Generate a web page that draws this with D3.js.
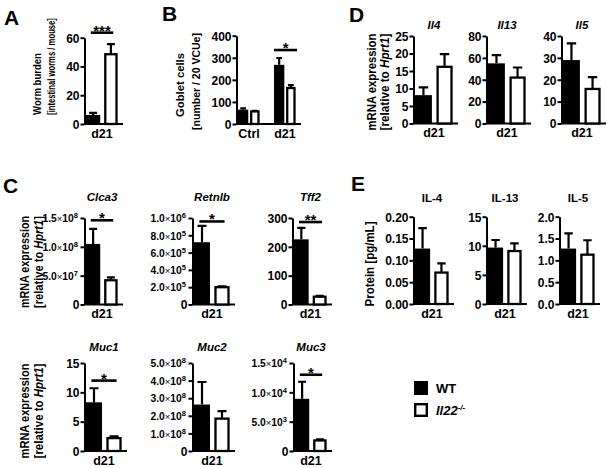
<!DOCTYPE html>
<html>
<head>
<meta charset="utf-8">
<script src="https://cdn.jsdelivr.net/npm/d3@7"></script>
<style>
  body { margin: 0; background: #fff; }
  svg { display: block; }
  text { font-family: "Liberation Sans", Arial, Helvetica, sans-serif; fill: #000; }
</style>
</head>
<body>
<svg id="fig" width="609" height="468"></svg>
<script>
// ---- data ----
const groups = ["WT", "Il22-/-"];

// A: worm burden
const wormCats = ["d21"];
const wormWT = [6.3], wormWTSem = [1.5];
const wormKO = [48.5], wormKOSem = [7.0];
const wormTicks = [0, 20, 40, 60];
const wormSig = [63.5];
const wormStars = ["***"];

// B: goblet cells
const gobletCats = ["Ctrl", "d21"];
const gobletWT = [65, 268], gobletWTSem = [6, 31];
const gobletKO = [57, 163], gobletKOSem = [3, 13];
const gobletTicks = [0, 100, 200, 300, 400];
const gobletSig = [null, 335];
const gobletStars = ["", "*"];

// D: cytokine mRNA
const dGenes = ["Il4", "Il13", "Il5"];
const dWT = [8.1, 55, 29], dWTSem = [2.2, 7.5, 7.6];
const dKO = [16.2, 42, 15.8], dKOSem = [3.6, 9.2, 5.4];
const dTicks = [[0, 5, 10, 15, 20, 25], [0, 20, 40, 60, 80], [0, 10, 20, 30, 40]];

// C: epithelial genes
const cGenes = ["Clca3", "Retnlb", "Tff2", "Muc1", "Muc2", "Muc3"];
const cWT = [1.05e8, 7.2e5, 226, 8.3, 2.64e8, 8.9e3];
const cWTSem = [2.6e7, 1.9e5, 40, 2.4, 1.28e8, 2.9e3];
const cKO = [4.2e7, 2.0e5, 27, 2.2, 1.84e8, 1.8e3];
const cKOSem = [0.5e7, 0.1e5, 3, 0.3, 0.43e8, 0.2e3];
const cTicks = [[0, 5e7, 1e8, 1.5e8], [0, 2e5, 4e5, 6e5, 8e5, 1e6], [0, 100, 200, 300],
                [0, 5, 10, 15], [0, 1e8, 2e8, 3e8, 4e8, 5e8], [0, 5e3, 1e4, 1.5e4]];
const cSci = [true, true, false, false, true, true];
const cStars = ["*", "*", "**", "*", "", "*"];
const cSig = [1.46e8, 9.6e5, 286, 12, null, 1.3e4];

// E: protein
const eProteins = ["IL-4", "IL-13", "IL-5"];
const eWT = [0.127, 9.7, 1.27], eWTSem = [0.047, 1.3, 0.35];
const eKO = [0.072, 9.1, 1.13], eKOSem = [0.021, 1.3, 0.33];
const eTicks = [[0, 0.05, 0.10, 0.15, 0.20], [0, 5, 10, 15], [0, 0.5, 1.0, 1.5, 2.0]];
const eFormat = [".2f", "d", ".1f"];

const svg = d3.select("#fig");

// scientific tick label like 1.5x10^8
function sciLabel(sel) {
  sel.each(function(v) {
    const t = d3.select(this).text(null).attr("font-size", 10.3).attr("x", -6.5);
    if (v === 0) { t.attr("font-size", 12).attr("x", -5).text("0"); return; }
    const e = Math.floor(Math.log10(v) + 1e-9);
    const m = v / Math.pow(10, e);
    t.append("tspan").text(m.toFixed(1));
    t.append("tspan").attr("font-weight", "normal").attr("font-size", 9.5).text("\u00d7");
    t.append("tspan").text("10");
    t.append("tspan").attr("font-size", 7.5).attr("dy", -4).text(e);
  });
}

function barPlot(o) {
  const g = svg.append("g");
  const y = d3.scaleLinear().domain([0, d3.max(o.ticks)]).range([o.bottom, o.top]);
  const xc = d3.scaleBand().domain(o.cats).range([o.x0, o.x1]).paddingInner(o.catPad || 0);
  const xg = d3.scaleBand().domain(groups).range([0, xc.bandwidth()]).paddingInner(o.pad || 0.2);
  const bw = xg.bandwidth();
  const sigL = o.sigL == null ? 0.15 : o.sigL, sigR = o.sigR == null ? 0.85 : o.sigR;

  g.append("line")
    .attr("x1", o.x0 - 2).attr("x2", o.x1 + 5)
    .attr("y1", o.bottom).attr("y2", o.bottom)
    .attr("stroke", "#000").attr("stroke-width", 2);

  o.cats.forEach((c, ci) => {
    groups.forEach((grp, gi) => {
      const v = o.means[gi][ci], s = o.sems[gi][ci];
      const bx = xc(c) + xg(grp);
      const cx = bx + bw / 2;
      g.append("path")
        .attr("d", `M${cx},${y(v)}V${y(v + s)}M${cx - bw * 0.28},${y(v + s)}H${cx + bw * 0.28}`)
        .attr("stroke", "#000").attr("stroke-width", 2.2).attr("fill", "none");
      if (gi === 0) {
        g.append("rect").attr("x", bx).attr("y", y(v))
          .attr("width", bw).attr("height", o.bottom - y(v)).attr("fill", "#000");
      } else {
        g.append("rect").attr("x", bx + 1.5).attr("y", y(v))
          .attr("width", bw - 3).attr("height", o.bottom - y(v))
          .attr("fill", "#fff").attr("stroke", "#000").attr("stroke-width", 2.3);
      }
    });
    if (o.sig && o.sig[ci] != null) {
      const sx = xc(c), w = xc.bandwidth();
      g.append("line")
        .attr("x1", sx + w * sigL).attr("x2", sx + w * sigR)
        .attr("y1", y(o.sig[ci])).attr("y2", y(o.sig[ci]))
        .attr("stroke", "#000").attr("stroke-width", 2.6);
      g.append("text")
        .attr("x", sx + w * (sigL + sigR) / 2).attr("y", y(o.sig[ci]) + 3)
        .attr("text-anchor", "middle").attr("font-size", 15).attr("font-weight", "bold")
        .text(o.stars[ci]);
    }
    g.append("text")
      .attr("x", xc(c) + xc.bandwidth() / 2).attr("y", o.bottom + 13.5)
      .attr("text-anchor", "middle").attr("font-size", 12.5).attr("font-weight", "bold")
      .text(c);
  });

  const ax = d3.axisLeft(y).tickValues(o.ticks).tickSize(4).tickSizeOuter(0).tickPadding(1);
  if (!o.sci) ax.tickFormat(d3.format(o.fmt || "d"));
  const axg = g.append("g").attr("transform", `translate(${o.x0 - 1.5},0)`).call(ax);
  axg.attr("font-family", null).attr("font-size", null);
  axg.select(".domain").attr("stroke-width", 2);
  axg.selectAll(".tick line").attr("stroke-width", 2);
  axg.selectAll(".tick text").attr("font-size", 12).attr("font-weight", "bold")
    .attr("fill", "#000").attr("dy", "0.36em");
  if (o.sci) axg.selectAll(".tick text").call(sciLabel);

  if (o.title) {
    g.append("text")
      .attr("x", (o.x0 + o.x1) / 2).attr("y", o.titleY)
      .attr("text-anchor", "middle").attr("font-size", 11.5).attr("font-weight", "bold")
      .attr("font-style", o.italic ? "italic" : "normal")
      .text(o.title);
  }
}

// rotated axis title, squeezed along its length to match the figure
function yLabel(x, cy, len, size, parts) {
  const g = svg.append("g").attr("transform", `translate(${x},${cy}) rotate(-90)`);
  const t = g.append("text")
    .attr("text-anchor", "middle").attr("font-size", size).attr("font-weight", "bold");
  parts.forEach(p => t.append("tspan").attr("font-style", p[1] ? "italic" : null).text(p[0]));
  const natural = t.node().getComputedTextLength();
  t.attr("transform", `scale(${len / natural},1)`);
}

function panelLetter(x, y, s) {
  svg.append("text").attr("x", x).attr("y", y).attr("font-size", 21)
    .attr("font-weight", "bold").text(s);
}

// ---- A ----
panelLetter(4, 25, "A");
barPlot({cats: wormCats, means: [wormWT, wormKO], sems: [wormWTSem, wormKOSem],
  ticks: wormTicks, x0: 86, x1: 118, top: 37.7, bottom: 124,
  sig: wormSig, stars: wormStars});
yLabel(41, 84, 62, 11.5, [["Worm burden"]]);
yLabel(55, 66.5, 97, 11.5, [["[intestinal worms / mouse]"]]);

// ---- B ----
panelLetter(162, 21, "B");
barPlot({cats: gobletCats, means: [gobletWT, gobletKO], sems: [gobletWTSem, gobletKOSem],
  ticks: gobletTicks, x0: 238, x1: 296, catPad: 0.39, pad: 0.12, top: 35.7, bottom: 124,
  sig: gobletSig, stars: gobletStars, sigL: 0, sigR: 1.05});
yLabel(184, 85, 64, 11.5, [["Goblet cells"]]);
yLabel(200, 81.5, 97, 11.5, [["[number / 20 VCUe]"]]);

// ---- D ----
panelLetter(349, 22, "D");
const dX = [415, 488, 563];
dGenes.forEach((gname, i) => {
  barPlot({cats: ["d21"], means: [[dWT[i]], [dKO[i]]], sems: [[dWTSem[i]], [dKOSem[i]]],
    ticks: dTicks[i], x0: dX[i], x1: dX[i] + 38, top: 36, bottom: 123.5,
    title: gname, titleY: 29, italic: true});
});
yLabel(375.5, 82, 97, 12, [["mRNA expression"]]);
yLabel(389, 82, 97, 12, [["[relative to "], ["Hprt1", true], ["]"]]);

// ---- C ----
panelLetter(3, 193, "C");
const cX = [86, 194, 294, 86, 194, 295];
const cW = [32, 36, 33, 36, 36, 32];
cGenes.forEach((gname, i) => {
  const row2 = i >= 3;
  barPlot({cats: ["d21"], means: [[cWT[i]], [cKO[i]]], sems: [[cWTSem[i]], [cKOSem[i]]],
    ticks: cTicks[i], sci: cSci[i], x0: cX[i], x1: cX[i] + cW[i],
    top: row2 ? 363 : 218, bottom: row2 ? 451 : 304.5,
    sig: cSig[i] != null ? [cSig[i]] : null, stars: [cStars[i]],
    title: gname, titleY: row2 ? 351 : 201, italic: true});
});
yLabel(29, 262, 92, 12, [["mRNA expression"]]);
yLabel(43, 262, 92, 12, [["[relative to "], ["Hprt1", true], ["]"]]);
yLabel(29, 411, 95, 12, [["mRNA expression"]]);
yLabel(43, 411, 95, 12, [["[relative to "], ["Hprt1", true], ["]"]]);

// ---- E ----
panelLetter(351, 191, "E");
const eX = [415, 488, 561];
eProteins.forEach((pname, i) => {
  barPlot({cats: ["d21"], means: [[eWT[i]], [eKO[i]]], sems: [[eWTSem[i]], [eKOSem[i]]],
    ticks: eTicks[i], fmt: eFormat[i], x0: eX[i], x1: eX[i] + 34, top: 216.7, bottom: 304,
    title: pname, titleY: 202, italic: false});
});
yLabel(374, 264, 85, 12, [["Protein [pg/mL]"]]);

// ---- legend ----
const leg = svg.append("g").attr("transform", "translate(414,381)");
groups.forEach((grp, i) => {
  const row = leg.append("g").attr("transform", `translate(0,${i * 22})`);
  if (i === 0) {
    row.append("rect").attr("width", 14).attr("height", 14).attr("fill", "#000");
  } else {
    row.append("rect").attr("x", 1.2).attr("y", 1.2).attr("width", 11.6).attr("height", 11.6)
      .attr("fill", "#fff").attr("stroke", "#000").attr("stroke-width", 2.4);
  }
  const t = row.append("text").attr("x", 22).attr("y", 12).attr("font-size", 13).attr("font-weight", "bold");
  if (i === 0) {
    t.text(grp);
  } else {
    t.append("tspan").attr("font-style", "italic").text("Il22");
    t.append("tspan").attr("font-style", "italic").attr("font-size", 8).attr("dy", -5).text("-/-");
  }
});
</script>
</body>
</html>
